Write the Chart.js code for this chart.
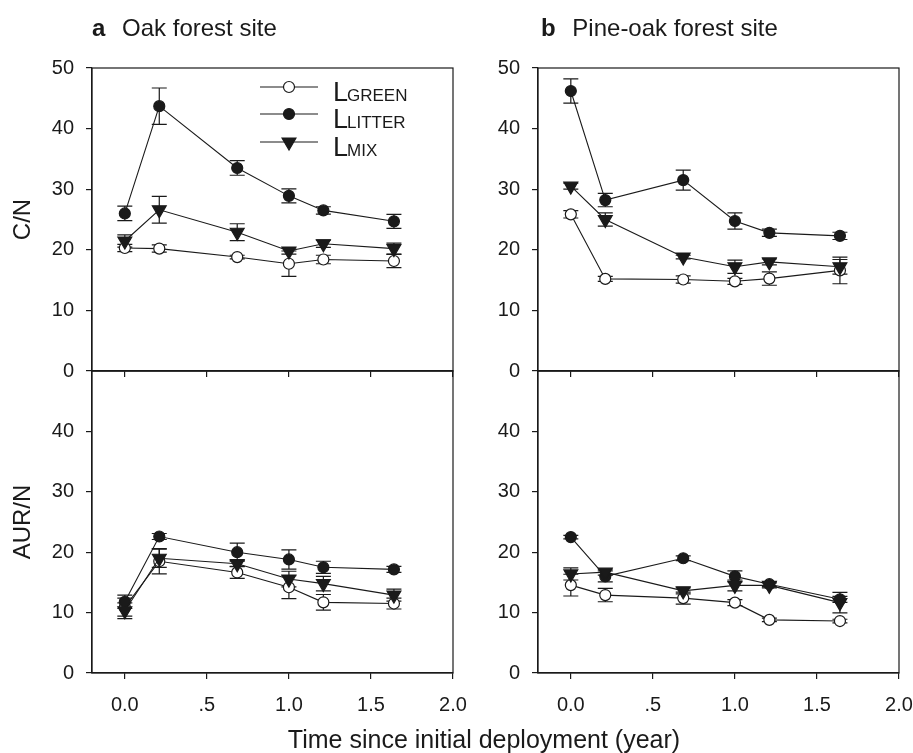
<!DOCTYPE html>
<html>
<head>
<meta charset="utf-8">
<script src="https://cdn.jsdelivr.net/npm/chart.js@4.4.1/dist/chart.umd.min.js"></script>
<style>
  body { margin: 0; background: #fff; }
  #wrap { position: relative; width: 913px; height: 753px; overflow: hidden;
          font-family: 'Liberation Sans', Arial, sans-serif; color: #1a1a1a; }
  canvas { position: absolute; left: 0; top: 0; }
  .ttl { position: absolute; font-size: 24px; line-height: 24px; white-space: nowrap; }
  .ttl b { margin-right: 10px; }
</style>
</head>
<body>
<div id="wrap">
  <canvas id="oakCN" width="913" height="753"></canvas>
  <canvas id="pineCN" width="913" height="753"></canvas>
  <canvas id="oakAUR" width="913" height="753"></canvas>
  <canvas id="pineAUR" width="913" height="753"></canvas>
  <div class="ttl" style="left:92px; top:16px"><b>a</b> Oak forest site</div>
  <div class="ttl" style="left:541px; top:16px"><b>b</b> Pine-oak forest site</div>
  <div class="ttl" style="left:484px; top:727px; font-size:25px; transform:translateX(-50%)">Time since initial deployment (year)</div>
</div>
<script>
// sampling times (year)
const years = [0, 0.21, 0.685, 1.0, 1.21, 1.64];

// tick labels
const xTicks = [0, 0.5, 1.0, 1.5, 2.0];
const xTickLabels = ['0.0', '.5', '1.0', '1.5', '2.0'];
const yTicksTop = [0, 10, 20, 30, 40, 50];
const yTicksBottom = [0, 10, 20, 30, 40];

// a) oak forest site, C/N
const oakCNGreen = [20.3, 20.2, 18.8, 17.7, 18.4, 18.15];
const oakCNGreenErr = [0.6, 0.6, 0.3, 2.1, 0.7, 1.1];
const oakCNLitter = [26.0, 43.7, 33.5, 28.9, 26.5, 24.7];
const oakCNLitterErr = [1.2, 3.0, 1.2, 1.15, 0.6, 1.15];
const oakCNMix = [21.45, 26.6, 22.9, 19.8, 21.0, 20.2];
const oakCNMixErr = [1.0, 2.2, 1.4, 0.5, 0.6, 0.9];

// b) pine-oak forest site, C/N
const pineCNGreen = [25.85, 15.2, 15.1, 14.8, 15.25, 16.6];
const pineCNGreenErr = [0.6, 0.4, 0.6, 0.5, 1.1, 2.2];
const pineCNLitter = [46.2, 28.2, 31.5, 24.75, 22.8, 22.3];
const pineCNLitterErr = [2.0, 1.1, 1.65, 1.35, 0.6, 0.6];
const pineCNMix = [30.5, 25.0, 18.8, 17.2, 18.0, 17.2];
const pineCNMixErr = [0.5, 1.1, 0.3, 1.1, 0.5, 1.2];

// a) oak forest site, AUR/N
const oakAURGreen = [10.9, 18.5, 16.65, 14.2, 11.7, 11.5];
const oakAURGreenErr = [1.5, 2.1, 1.0, 1.9, 1.3, 0.9];
const oakAURLitter = [11.8, 22.6, 20.0, 18.8, 17.5, 17.15];
const oakAURLitterErr = [1.1, 0.5, 1.5, 1.6, 1.0, 0.5];
const oakAURMix = [10.3, 19.0, 18.1, 15.55, 14.8, 12.9];
const oakAURMixErr = [1.3, 1.5, 0.5, 1.3, 1.2, 1.0];

// b) pine-oak forest site, AUR/N
const pineAURGreen = [14.55, 12.9, 12.4, 11.65, 8.8, 8.6];
const pineAURGreenErr = [1.8, 1.1, 1.0, 0.5, 0.3, 0.3];
const pineAURLitter = [22.5, 16.0, 19.0, 16.0, 14.7, 12.2];
const pineAURLitterErr = [0.3, 0.9, 0.4, 0.9, 0.4, 0.5];
const pineAURMix = [16.4, 16.7, 13.6, 14.5, 14.5, 11.65];
const pineAURMixErr = [1.0, 0.5, 0.5, 0.9, 0.4, 1.7];

const INK = '#1a1a1a';
Chart.defaults.font.family = "'Liberation Sans', Arial, sans-serif";
Chart.defaults.color = INK;

const styles = {
  green:  { label: 'GREEN',  pointStyle: 'circle',   radius: 5.5, rotation: 0,   fill: '#ffffff' },
  litter: { label: 'LITTER', pointStyle: 'circle',   radius: 5.5, rotation: 0,   fill: INK },
  mix:    { label: 'MIX',    pointStyle: 'triangle', radius: 8,   rotation: 180, fill: INK }
};

function series(kind, values, errors) {
  const s = styles[kind];
  return {
    label: 'L' + s.label,
    data: years.map((x, i) => ({ x: x, y: values[i] })),
    errors: errors,
    showLine: true,
    tension: 0,
    borderColor: INK,
    borderWidth: 1.1,
    pointStyle: s.pointStyle,
    pointRadius: s.radius,
    pointRotation: s.rotation,
    pointBackgroundColor: s.fill,
    pointBorderColor: INK,
    pointBorderWidth: 1.2
  };
}

// box around the plot area
const framePlugin = {
  id: 'frame',
  beforeDatasetsDraw(chart) {
    const a = chart.chartArea, ctx = chart.ctx;
    ctx.save();
    ctx.strokeStyle = INK;
    ctx.lineWidth = 1.2;
    ctx.strokeRect(a.left, a.top, a.right - a.left, a.bottom - a.top);
    ctx.restore();
  }
};

// vertical error bars with caps
const errorBarPlugin = {
  id: 'errorBars',
  beforeDatasetsDraw(chart) {
    const ctx = chart.ctx, xs = chart.scales.x, ys = chart.scales.y;
    ctx.save();
    ctx.strokeStyle = INK;
    ctx.lineWidth = 1.2;
    chart.data.datasets.forEach(ds => {
      ds.data.forEach((p, i) => {
        const e = ds.errors[i];
        const px = xs.getPixelForValue(p.x);
        const top = ys.getPixelForValue(p.y + e);
        const bot = ys.getPixelForValue(p.y - e);
        ctx.beginPath();
        ctx.moveTo(px, top); ctx.lineTo(px, bot);
        ctx.moveTo(px - 7.5, top); ctx.lineTo(px + 7.5, top);
        ctx.moveTo(px - 7.5, bot); ctx.lineTo(px + 7.5, bot);
        ctx.stroke();
      });
    });
    ctx.restore();
  }
};

// legend with subscripts, top-left panel only
const legendPlugin = {
  id: 'subLegend',
  afterDraw(chart) {
    const ctx = chart.ctx;
    const rows = [['green', 87], ['litter', 114], ['mix', 142]];
    ctx.save();
    rows.forEach(([kind, y]) => {
      const s = styles[kind];
      ctx.strokeStyle = INK;
      ctx.lineWidth = 1.1;
      ctx.beginPath();
      ctx.moveTo(260, y); ctx.lineTo(318, y);
      ctx.stroke();
      ctx.fillStyle = s.fill;
      ctx.lineWidth = 1.2;
      Chart.helpers.drawPoint(ctx, { pointStyle: s.pointStyle, radius: s.radius, rotation: s.rotation, borderWidth: 1.2 }, 289, y);
      ctx.fillStyle = INK;
      ctx.textBaseline = 'alphabetic';
      ctx.textAlign = 'left';
      ctx.font = "27px 'Liberation Sans', Arial, sans-serif";
      ctx.fillText('L', 333, y + 13.5);
      ctx.font = "17px 'Liberation Sans', Arial, sans-serif";
      ctx.fillText(s.label, 347, y + 13.5);
    });
    ctx.restore();
  }
};

function makePanel(id, box, yTicks, yTitle, showX, datasets, extra) {
  new Chart(document.getElementById(id), {
    type: 'scatter',
    data: { datasets: datasets },
    plugins: [framePlugin, errorBarPlugin].concat(extra || []),
    options: {
      responsive: false,
      animation: false,
      events: [],
      layout: { padding: box.pad },
      plugins: { legend: { display: false }, tooltip: { enabled: false } },
      scales: {
        x: {
          type: 'linear', min: -0.2, max: 2.0,
          afterBuildTicks: s => { s.ticks = xTicks.map(v => ({ value: v })); },
          afterFit: s => { s.height = 40; s.paddingLeft = 0; s.paddingRight = 0; },
          ticks: { display: showX, padding: 14, font: { size: 20 }, color: INK,
                   callback: (v, i) => xTickLabels[i] },
          grid: { drawOnChartArea: false, drawTicks: true, tickLength: 6, color: INK, lineWidth: 1.2 },
          border: { display: true, color: INK, width: 1.2 }
        },
        y: {
          type: 'linear', min: 0, max: 50,
          afterBuildTicks: s => { s.ticks = yTicks.map(v => ({ value: v })); },
          afterFit: s => { s.width = box.yw; s.paddingTop = 0; s.paddingBottom = 0; },
          ticks: { padding: 12, font: { size: 20 }, color: INK, callback: v => String(v) },
          grid: { drawOnChartArea: false, drawTicks: true, tickLength: 6, color: INK, lineWidth: 1.2 },
          border: { display: true, color: INK, width: 1.2 },
          title: { display: !!yTitle, text: yTitle, font: { size: 24 }, color: INK, padding: { top: 9, bottom: 0 } }
        }
      }
    }
  });
}

// plot areas: left 92-453 / 538-899, top 68-371 / 371-673
const boxTL = { yw: 92, pad: { left: 0,   top: 68,  right: 460, bottom: 342 } };
const boxTR = { yw: 78, pad: { left: 460, top: 68,  right: 14,  bottom: 342 } };
const boxBL = { yw: 92, pad: { left: 0,   top: 371, right: 460, bottom: 40 } };
const boxBR = { yw: 78, pad: { left: 460, top: 371, right: 14,  bottom: 40 } };

makePanel('oakCN', boxTL, yTicksTop, 'C/N', false, [
  series('mix', oakCNMix, oakCNMixErr),
  series('litter', oakCNLitter, oakCNLitterErr),
  series('green', oakCNGreen, oakCNGreenErr)
], [legendPlugin]);

makePanel('pineCN', boxTR, yTicksTop, '', false, [
  series('mix', pineCNMix, pineCNMixErr),
  series('litter', pineCNLitter, pineCNLitterErr),
  series('green', pineCNGreen, pineCNGreenErr)
]);

makePanel('oakAUR', boxBL, yTicksBottom, 'AUR/N', true, [
  series('mix', oakAURMix, oakAURMixErr),
  series('litter', oakAURLitter, oakAURLitterErr),
  series('green', oakAURGreen, oakAURGreenErr)
]);

makePanel('pineAUR', boxBR, yTicksBottom, '', true, [
  series('mix', pineAURMix, pineAURMixErr),
  series('litter', pineAURLitter, pineAURLitterErr),
  series('green', pineAURGreen, pineAURGreenErr)
]);
</script>
</body>
</html>
